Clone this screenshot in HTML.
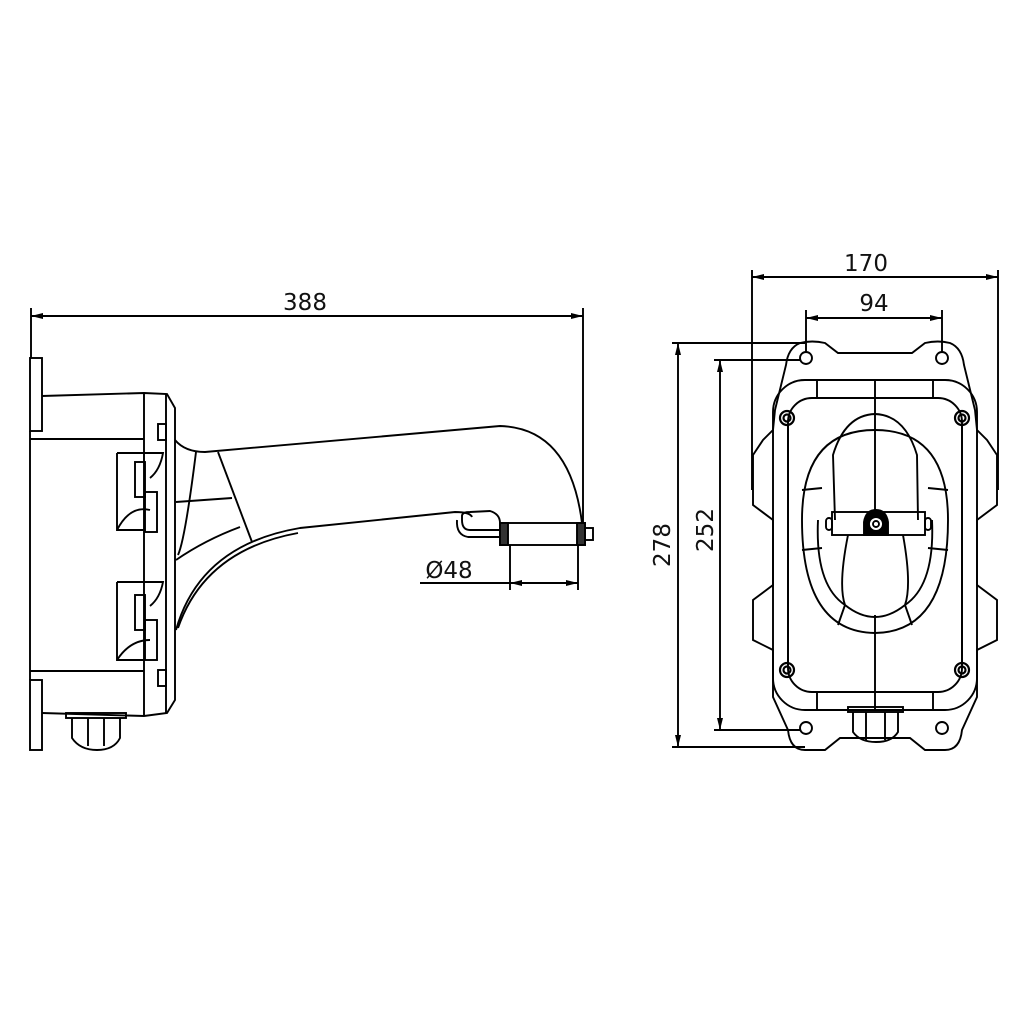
<!DOCTYPE html>
<html><head><style>html,body{margin:0;padding:0;background:#fff}svg{display:block}
text{font-family:"DejaVu Sans","Liberation Sans",sans-serif;font-size:23px;fill:#111}</style></head>
<body>
<svg width="1024" height="1024" viewBox="0 0 1024 1024" xmlns="http://www.w3.org/2000/svg">
<defs>
<marker id="a" viewBox="0 0 12 6" refX="12" refY="3" markerWidth="12" markerHeight="6" orient="auto-start-reverse" markerUnits="userSpaceOnUse"><path d="M0,0 L12,3 L0,6 Z" fill="#000"/></marker>
</defs>
<g fill="none" stroke="#000" stroke-width="1.9">
<line x1="31" y1="316" x2="583" y2="316" marker-start="url(#a)" marker-end="url(#a)"/>
<line x1="31" y1="308" x2="31" y2="358"/>
<line x1="583" y1="308" x2="583" y2="523"/>
<rect x="30" y="358" width="12" height="73"/>
<rect x="30" y="680" width="12" height="70"/>
<line x1="30" y1="431" x2="30" y2="680"/>
<path d="M42,396 L144,393 L167,394 L175,408 L175,700 L167,713 L144,716 L42,713"/>
<line x1="30" y1="439" x2="144" y2="439"/>
<line x1="30" y1="671" x2="144" y2="671"/>
<line x1="144" y1="393" x2="144" y2="716"/>
<line x1="166" y1="394" x2="166" y2="713"/>
<rect x="158" y="424" width="8" height="16"/>
<rect x="158" y="670" width="8" height="16"/>
<path d="M117,453 L163,453 Q160,470 150,478 M117,453 L117,530 L144,530 M117,530 Q130,505 150,510"/>
<path d="M117,582 L163,582 Q160,598 150,606 M117,582 L117,660 L144,660 M117,660 Q130,640 150,640"/>
<rect x="135" y="462" width="10" height="35"/><rect x="145" y="492" width="12" height="40"/>
<rect x="135" y="595" width="10" height="35"/><rect x="145" y="620" width="12" height="40"/>
<path d="M175,440 Q185,452 205,452 L500,426 Q570,428 582,523"/>
<path d="M176,630 Q200,545 300,528 L455,512 Q470,512 472,517"/>
<path d="M178,628 Q205,550 298,533"/>
<path d="M196,452 Q185,540 178,555"/>
<path d="M218,452 L252,542"/>
<path d="M176,502 L232,498"/>
<path d="M176,560 Q205,540 240,527"/>
<path d="M500,530 L470,530 Q462,530 462,520 L462,516 Q462,512 470,512 L490,511 Q500,514 500,523"/>
<path d="M500,537 L468,537 Q456,535 457,520"/>
<rect x="500" y="523" width="85" height="22"/>
<rect x="500" y="523" width="8" height="22" fill="#333"/>
<rect x="577" y="523" width="8" height="22" fill="#333"/>
<rect x="585" y="528" width="8" height="12"/>
<line x1="510" y1="545" x2="510" y2="590"/>
<line x1="578" y1="545" x2="578" y2="590"/>
<line x1="420" y1="583" x2="510" y2="583"/>
<line x1="510" y1="583" x2="578" y2="583" marker-start="url(#a)" marker-end="url(#a)"/>
<rect x="66" y="713" width="60" height="5"/>
<path d="M72,718 L72,738 Q80,750 97,750 Q114,750 120,738 L120,718"/>
<line x1="88" y1="718" x2="88" y2="746"/><line x1="104" y1="718" x2="104" y2="746"/>

<line x1="752" y1="277" x2="998" y2="277" marker-start="url(#a)" marker-end="url(#a)"/>
<line x1="752" y1="270" x2="752" y2="490"/>
<line x1="998" y1="270" x2="998" y2="490"/>
<line x1="806" y1="318" x2="942" y2="318" marker-start="url(#a)" marker-end="url(#a)"/>
<line x1="806" y1="310" x2="806" y2="352"/>
<line x1="942" y1="310" x2="942" y2="352"/>
<line x1="678" y1="343" x2="678" y2="747" marker-start="url(#a)" marker-end="url(#a)"/>
<line x1="672" y1="343" x2="805" y2="343"/>
<line x1="672" y1="747" x2="805" y2="747"/>
<line x1="720" y1="360" x2="720" y2="730" marker-start="url(#a)" marker-end="url(#a)"/>
<line x1="714" y1="360" x2="800" y2="360"/>
<line x1="714" y1="730" x2="800" y2="730"/>
<path d="M800,343 Q812,340 825,343 L838,353 L912,353 L925,343 Q938,340 950,343 Q962,348 964,365 L975,410 L977,430 L987,440 L997,455 L997,505 L977,520 L977,585 L997,600 L997,640 L977,650 L977,697 L962,730 Q960,750 945,750 L925,750 L910,738 L840,738 L825,750 L805,750 Q790,750 788,730 L773,697 L773,650 L753,640 L753,600 L773,585 L773,520 L753,505 L753,455 L763,440 L773,430 L775,410 L786,365 Q788,348 800,343 Z"/>
<rect x="773" y="380" width="204" height="330" rx="32"/>
<rect x="788" y="398" width="174" height="294" rx="24"/>
<line x1="788" y1="425" x2="788" y2="665"/>
<line x1="962" y1="425" x2="962" y2="665"/>
<line x1="817" y1="380" x2="817" y2="398"/><line x1="933" y1="380" x2="933" y2="398"/>
<line x1="817" y1="692" x2="817" y2="710"/><line x1="933" y1="692" x2="933" y2="710"/>
<line x1="875" y1="380" x2="875" y2="512"/>
<line x1="875" y1="615" x2="875" y2="710"/>
<circle cx="806" cy="358" r="6"/><circle cx="942" cy="358" r="6"/>
<circle cx="806" cy="728" r="6"/><circle cx="942" cy="728" r="6"/>
<g stroke-width="2.2">
<circle cx="787" cy="418" r="7"/><circle cx="787" cy="418" r="3.5"/>
<circle cx="962" cy="418" r="7"/><circle cx="962" cy="418" r="3.5"/>
<circle cx="787" cy="670" r="7"/><circle cx="787" cy="670" r="3.5"/>
<circle cx="962" cy="670" r="7"/><circle cx="962" cy="670" r="3.5"/>
</g>
<path d="M875,430 Q802,430 802,520 Q802,632 875,633 Q948,632 948,520 Q948,430 875,430 Z"/>
<path d="M835,520 L833,455 Q845,415 875,414 Q905,415 917,455 L918,520"/>
<path d="M848,535 Q838,585 845,605 Q860,617 875,617 Q890,617 905,605 Q912,585 903,535"/>
<path d="M818,520 Q815,585 845,605 M932,520 Q935,585 905,605"/>
<line x1="802" y1="490" x2="822" y2="488"/><line x1="928" y1="488" x2="948" y2="490"/>
<line x1="802" y1="550" x2="822" y2="548"/><line x1="928" y1="548" x2="948" y2="550"/>
<line x1="845" y1="605" x2="838" y2="625"/><line x1="905" y1="605" x2="912" y2="625"/>
<rect x="832" y="512" width="93" height="23"/>
<rect x="826" y="518" width="6" height="12" rx="3"/><rect x="925" y="518" width="6" height="12" rx="3"/>
<path d="M864,535 L864,522 Q866,510 876,510 Q886,510 888,522 L888,535 Z" fill="#000"/>
<circle cx="876" cy="524" r="7" fill="#fff"/><circle cx="876" cy="524" r="3"/>
<rect x="848" y="707" width="55" height="5"/>
<path d="M853,712 L853,732 Q860,742 876,742 Q892,742 898,732 L898,712"/>
<line x1="866" y1="712" x2="866" y2="740"/><line x1="885" y1="712" x2="885" y2="740"/>
</g>
<text x="305" y="310" text-anchor="middle">388</text>
<text x="449" y="578" text-anchor="middle">Ø48</text>
<text x="866" y="271" text-anchor="middle">170</text>
<text x="874" y="311" text-anchor="middle">94</text>
<text transform="translate(670,545) rotate(-90)" text-anchor="middle">278</text>
<text transform="translate(713,530) rotate(-90)" text-anchor="middle">252</text>
</svg>
</body></html>
